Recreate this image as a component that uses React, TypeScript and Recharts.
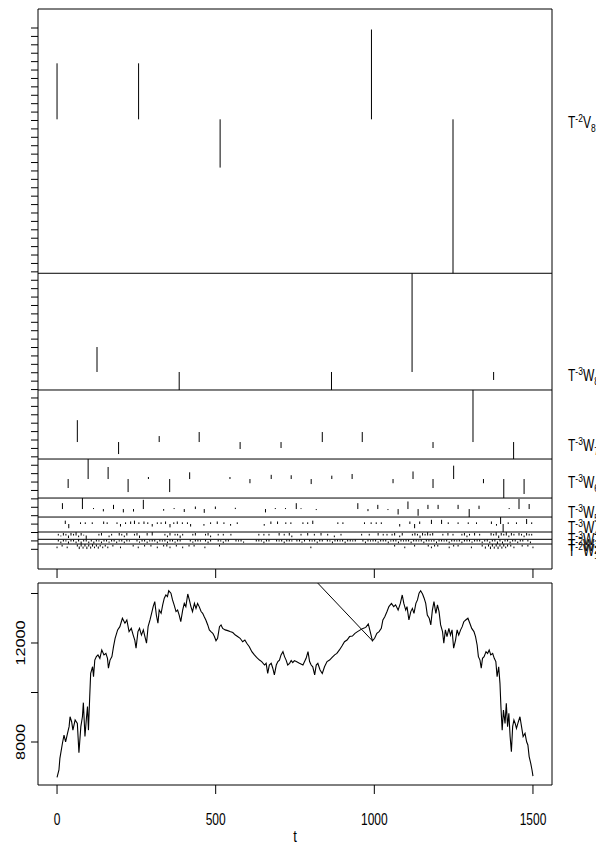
import React from 'react';
import { ComposedChart, LineChart, Line, XAxis, YAxis, ReferenceLine, ReferenceArea } from 'recharts';

// wavelet levels, top to bottom of the upper panel
const levelNames = ['V8', 'W8', 'W7', 'W6', 'W5', 'W4', 'W3', 'W2', 'W1'];
const levelPower = ['-2', '-3', '-3', '-3', '-3', '-3', '-3', '-2', '-2'];

// coefficients per level as [t, value] (value in panel units)
const coefV8 = [[0, 6.66], [257, 6.66], [514, -5.74], [991, 10.68], [1248, -18.31]];
const coefW8 = [[126, 2.97], [385, -2.14], [865, -2.14], [1119, 11.74], [1376, -0.95]];
const coefW7 = [
  [64, 2.6], [194, -1.43], [322, 0.71], [448, 1.19], [577, -0.83], [706, -0.71],
  [836, 1.19], [962, 1.19], [1185, -0.71], [1311, 6.19], [1439, -2.02],
];
const coefW6 = [
  [35, -1.07], [98, 2.38], [161, 1.43], [224, -1.55], [288, 0.24], [355, -1.55], [418, 0.8],
  [545, 0.24], [608, -0.5], [675, 0.5], [738, 0.45], [801, -0.6], [866, 0.4], [930, 0.6],
  [1059, -0.5], [1122, 0.9], [1185, -1.07], [1250, 1.59], [1344, -0.5], [1408, -2.26], [1472, -1.78],
];
const coefW5 = [
  [17, 0.7], [80, 1.31], [115, 0.12], [146, -0.28], [178, 0.5], [209, -0.4], [241, -0.3], [272, 1.1],
  [336, -0.2], [369, 0.12], [401, -0.35], [436, 0.3], [464, -0.45], [499, 0.3], [562, 0.15],
  [657, -0.4], [688, 0.12], [720, 0.12], [754, 0.7], [769, 0.1], [817, -0.12], [948, 0.7],
  [980, -0.25], [1011, 0.5], [1043, -0.12], [1075, -0.65], [1106, 0.9], [1138, -0.8], [1169, 0.5],
  [1201, 0.5], [1264, 0.5], [1299, -0.95], [1330, 0.4], [1425, 0.12], [1456, 1.2], [1488, 0.6],
];
const coefW4 = [
  [26, 0.4], [37, -0.5], [74, 0.2], [89, 0.2], [111, 0.2], [147, 0.3], [158, 0.2], [189, 0.2],
  [200, -0.3], [216, 0.2], [232, 0.3], [244, 0.4], [258, 0.2], [274, 0.3], [286, 0.2], [300, -0.3],
  [316, 0.2], [328, 0.2], [342, 0.3], [356, -0.4], [368, 0.2], [379, 0.3], [395, 0.2], [411, 0.2],
  [421, -0.3], [463, -0.2], [484, 0.2], [505, 0.3], [526, 0.2], [547, -0.2], [568, 0.2], [653, -0.2],
  [674, 0.3], [695, 0.3], [721, 0.2], [737, 0.2], [775, 0.2], [790, 0.2], [806, 0.4], [885, 0.2],
  [901, 0.2], [969, 0.2], [990, 0.2], [1006, 0.2], [1022, 0.2], [1080, -0.3], [1112, 0.3],
  [1127, -0.5], [1143, 0.3], [1180, 0.5], [1212, 0.5], [1233, 0.2], [1264, 0.2], [1296, 0.2],
  [1322, 0.2], [1369, 0.3], [1385, -0.2], [1398, 0.83], [1406, -0.95], [1422, 0.2], [1448, 0.2],
  [1480, 0.6], [1496, 0.2],
];
const coefW3 = [
  [4, 0.2], [12, -0.1], [20, 0.3], [28, 0.2], [36, -0.3], [44, 0.3], [52, 0.2], [60, 0.4], [68, -0.2],
  [76, 0.3], [84, 0.1], [92, -0.4], [132, 0.2], [140, 0.3], [164, -0.2], [172, 0.2], [196, 0.3],
  [204, 0.2], [212, -0.2], [220, 0.3], [244, 0.2], [252, 0.3], [260, -0.3], [284, 0.3], [300, 0.4],
  [340, 0.2], [348, -0.2], [356, 0.3], [372, 0.2], [380, 0.2], [388, -0.3], [396, 0.2], [428, 0.2],
  [436, 0.3], [468, 0.2], [476, 0.3], [484, -0.2], [508, 0.2], [524, 0.2], [548, 0.2], [636, 0.2],
  [652, 0.2], [668, 0.2], [700, 0.3], [716, 0.2], [732, 0.3], [740, -0.2], [769, 0.2], [790, 0.3],
  [811, 0.2], [832, 0.3], [853, 0.2], [874, -0.2], [895, 0.2], [960, 0.2], [984, 0.2], [1012, 0.3],
  [1028, 0.2], [1040, 0.2], [1056, 0.2], [1064, 0.3], [1080, -0.2], [1088, 0.3], [1120, 0.2],
  [1128, 0.3], [1136, 0.2], [1144, -0.3], [1152, 0.3], [1160, 0.2], [1168, 0.4], [1176, 0.2],
  [1184, 0.3], [1216, 0.2], [1232, 0.3], [1248, 0.2], [1276, 0.2], [1284, 0.3], [1292, -0.2],
  [1300, 0.2], [1316, 0.3], [1332, 0.2], [1368, 0.3], [1376, 0.2], [1384, 0.4], [1392, -0.3],
  [1400, 0.3], [1408, 0.2], [1416, 0.4], [1424, -0.2], [1432, 0.3], [1440, 0.2], [1456, 0.3],
  [1464, 0.2], [1472, -0.2], [1480, 0.3], [1488, 0.2], [1496, 0.2],
];
const coefW2 = [
  [4, 0.2], [12, -0.2], [20, 0.2], [28, 0.15], [36, -0.25], [44, 0.2], [52, 0.2], [60, -0.2], [68, 0.25],
  [76, -0.3], [84, 0.2], [92, 0.25], [100, -0.2], [108, 0.2], [116, -0.25], [124, 0.2], [132, 0.15],
  [140, -0.2], [148, 0.2], [156, 0.2], [164, -0.15], [172, 0.2], [180, 0.2], [188, -0.2], [196, 0.15],
  [204, 0.2], [212, -0.2], [220, 0.2], [228, 0.15], [252, 0.2], [260, -0.15], [268, 0.2], [276, 0.2],
  [284, -0.2], [292, 0.15], [300, 0.2], [308, 0.2], [316, -0.2], [324, 0.2], [332, 0.15], [340, 0.2],
  [348, -0.2], [356, 0.2], [364, 0.2], [372, -0.15], [380, 0.2], [388, 0.2], [420, 0.2], [428, -0.15],
  [436, 0.2], [444, 0.2], [452, 0.15], [468, 0.2], [476, -0.2], [484, 0.2], [508, 0.2], [516, 0.15],
  [524, -0.2], [532, 0.2], [540, 0.2], [564, 0.2], [572, 0.15], [580, 0.2], [588, -0.15], [628, 0.2],
  [636, 0.2], [644, 0.15], [652, -0.2], [660, 0.2], [668, 0.2], [692, 0.2], [700, 0.15], [708, 0.2],
  [716, -0.2], [724, 0.2], [732, 0.2], [740, 0.15], [756, 0.2], [764, 0.2], [772, -0.15], [780, 0.2],
  [796, 0.2], [804, 0.15], [812, 0.2], [820, -0.2], [828, 0.2], [836, 0.2], [852, 0.2], [860, 0.15],
  [868, -0.2], [876, 0.2], [884, 0.2], [892, 0.15], [900, 0.2], [908, -0.2], [916, 0.2], [924, 0.2],
  [932, 0.15], [940, 0.2], [964, 0.2], [972, -0.2], [980, 0.2], [988, 0.15], [996, 0.2], [1004, 0.2],
  [1012, -0.15], [1020, 0.2], [1028, 0.2], [1036, 0.2], [1044, -0.2], [1052, 0.15], [1060, 0.2],
  [1068, 0.2], [1076, -0.2], [1084, 0.2], [1092, 0.15], [1100, 0.2], [1108, 0.2], [1116, -0.2],
  [1124, 0.2], [1132, 0.2], [1140, 0.15], [1148, 0.2], [1156, -0.2], [1164, 0.2], [1172, 0.2],
  [1180, 0.15], [1188, 0.2], [1196, -0.2], [1204, 0.2], [1212, 0.2], [1220, 0.15], [1228, 0.2],
  [1236, -0.2], [1244, 0.2], [1252, 0.2], [1260, 0.15], [1268, 0.2], [1276, -0.2], [1284, 0.2],
  [1292, 0.2], [1300, 0.2], [1308, -0.15], [1316, 0.2], [1324, 0.2], [1332, 0.2], [1340, -0.2],
  [1348, 0.2], [1356, 0.25], [1364, -0.2], [1372, 0.2], [1380, 0.25], [1388, -0.3], [1396, 0.25],
  [1404, -0.25], [1412, 0.2], [1420, 0.25], [1428, -0.2], [1436, 0.2], [1444, 0.2], [1452, -0.2],
  [1460, 0.2], [1468, 0.2], [1484, 0.2], [1492, -0.2],
];
const coefW1 = [
  [0, -0.2], [16, 0.2], [32, -0.2], [64, 0.25], [70, -0.3], [76, 0.3], [82, -0.25], [88, 0.3], [94, -0.3],
  [100, 0.25], [106, -0.25], [112, 0.3], [118, -0.2], [124, 0.25], [130, -0.25], [136, 0.2], [144, -0.2],
  [152, 0.2], [160, -0.2], [176, 0.2], [200, -0.2], [240, 0.2], [256, -0.2], [276, 0.2], [296, 0.2],
  [316, -0.2], [336, 0.2], [346, 0.25], [356, -0.2], [376, 0.2], [396, -0.2], [416, 0.2], [432, 0.2],
  [466, -0.2], [512, 0.2], [800, -0.2], [1064, 0.2], [1096, -0.2], [1127, 0.2], [1170, 0.2],
  [1180, -0.2], [1190, 0.2], [1200, 0.2], [1236, -0.2], [1250, 0.2], [1264, 0.2], [1306, -0.2],
  [1340, 0.2], [1350, -0.25], [1360, 0.25], [1366, -0.3], [1372, 0.3], [1378, -0.25], [1384, 0.3],
  [1390, -0.3], [1396, 0.25], [1402, -0.25], [1408, 0.3], [1414, -0.2], [1420, 0.25], [1430, 0.2],
  [1440, -0.2], [1466, 0.2], [1484, 0.2], [1500, -0.2],
];
const levelCoefs = [coefV8, coefW8, coefW7, coefW6, coefW5, coefW4, coefW3, coefW2, coefW1];

// original series, [t, value]
const seriesLeft = [
  [0, 6570], [6, 6870], [9, 7340], [17, 7950], [22, 8280], [27, 8010], [33, 8350], [38, 8620], [41, 9020],
  [46, 8820], [50, 8480], [57, 8890], [64, 8750], [69, 7570], [75, 8620], [80, 9020], [83, 9590], [88, 8220],
  [93, 9020], [96, 9430], [99, 8480], [103, 9830], [106, 10770], [112, 11040], [115, 10640], [119, 11310],
  [124, 11450], [129, 11520], [135, 11380], [141, 11720], [148, 11520], [154, 11580], [159, 11380],
  [162, 10980], [167, 11310], [173, 11450], [178, 11850], [183, 12190], [191, 12530], [198, 12660],
  [206, 13000], [214, 12800], [220, 12930], [227, 12460], [234, 12590], [240, 12320], [245, 12120],
  [249, 11790], [255, 12460], [260, 12590], [266, 12320], [272, 12530], [277, 12260], [282, 11990],
  [287, 12660], [293, 12930], [298, 13200], [303, 13470], [308, 13670], [313, 13130], [318, 12800],
  [322, 13330], [328, 13200], [333, 13540], [338, 13810], [343, 13940], [348, 13870], [352, 14110],
  [359, 14010], [364, 13740], [369, 13540], [375, 13270], [380, 13330], [385, 13130], [390, 12860],
  [396, 13330], [401, 13600], [406, 13470], [412, 13980], [417, 13740], [422, 13470], [427, 13270],
  [433, 13600], [438, 13400], [443, 13600], [448, 13470], [454, 13270], [459, 13200], [464, 13060],
  [469, 12930], [475, 12730], [480, 12530], [485, 12460], [491, 12390], [496, 12260], [501, 12090],
  [506, 12190], [512, 12660], [517, 12730], [522, 12590], [530, 12530], [538, 12500], [545, 12460],
  [554, 12420], [562, 12320], [569, 12260], [577, 12190], [585, 12050], [592, 12120], [598, 11990],
  [606, 11850], [614, 11650], [622, 11520], [629, 11420], [638, 11310], [645, 11250], [654, 11110],
  [659, 11180], [664, 10770], [669, 11110], [675, 11180], [680, 10980], [685, 10710], [691, 11110],
  [696, 11250], [701, 11310], [706, 11520], [712, 11650], [717, 11450], [722, 11310], [727, 11110],
  [733, 11180], [738, 11290], [743, 11210], [748, 11290],
];
const seriesRight = [
  [754, 11250], [764, 11180], [775, 11110], [785, 11380], [791, 11650], [796, 11250], [801, 11110],
  [806, 11040], [812, 10710], [817, 11110], [822, 11180], [829, 10910], [836, 10770], [843, 11040],
  [851, 11250], [859, 11310], [867, 11420], [875, 11520], [882, 11580], [890, 11720], [898, 11880],
  [906, 12050], [914, 12120], [922, 12260], [931, 12280], [939, 12390], [947, 12460], [956, 12530],
  [964, 12590], [973, 12630], [981, 12770], [987, 12460], [994, 12090], [1001, 12190], [1008, 12390],
  [1015, 12460], [1022, 12590], [1027, 12930], [1033, 13060], [1040, 13270], [1046, 13470], [1054, 13600],
  [1061, 13470], [1067, 13540], [1075, 13330], [1082, 13600], [1088, 13940], [1093, 13600], [1099, 13330],
  [1103, 13470], [1109, 12930], [1115, 13270], [1120, 13400], [1125, 13200], [1131, 13600], [1136, 13740],
  [1141, 14010], [1146, 14110], [1152, 13980], [1157, 13810], [1162, 13600], [1167, 13130], [1173, 13000],
  [1178, 12730], [1183, 13330], [1188, 13670], [1194, 13200], [1199, 13540], [1204, 13270], [1209, 12730],
  [1215, 12460], [1219, 11990], [1224, 12530], [1229, 12260], [1235, 12590], [1240, 12320], [1245, 12530],
  [1250, 11790], [1256, 12120], [1261, 12530], [1266, 12320], [1272, 12530], [1277, 12660], [1282, 12860],
  [1288, 12930], [1295, 13000], [1301, 12800], [1307, 12590], [1314, 12460], [1319, 12260], [1324, 11920],
  [1328, 11450], [1333, 11310], [1337, 10980], [1341, 11380], [1346, 11450], [1352, 11650], [1357, 11580],
  [1362, 11720], [1367, 11520], [1373, 11580], [1378, 11380], [1383, 11250], [1387, 10640], [1392, 11040],
  [1396, 10370], [1399, 9430], [1403, 8480], [1407, 9290], [1412, 8750], [1416, 9560], [1420, 8620],
  [1424, 9160], [1428, 8220], [1432, 7610], [1436, 8620], [1440, 8890], [1444, 8750], [1448, 8550],
  [1454, 8820], [1459, 9020], [1464, 8620], [1469, 8220], [1475, 8350], [1480, 8010], [1484, 7880],
  [1488, 7410], [1493, 7140], [1497, 6870], [1500, 6620],
];
// the stray segment running in from above the panel
const seriesStray = [[705, 16000], [994, 12090]];

const timeTicks = [0, 500, 1000, 1500];
const priceTicks = [8000, 10000, 12000, 14000];
const priceLabels = [8000, 12000];
const levelTicks = Array.from({ length: 63 }, (_, i) => i);

// layout of the upper panel (panel units): baseline of each level, band borders
const levelBase = [51.14, 21.09, 12.76, 8.36, 4.79, 3.01, 1.64, 0.93, 0.33];
const bandEdges = [32.83, 18.95, 10.74, 6.1, 3.84, 2.06, 1.19, 0.63];

const FONT = "'Liberation Sans', Arial, Helvetica, sans-serif";
const X_DOMAIN = [-60, 1560];
const LEVEL_DOMAIN = [-2.34, 64.26];
const PRICE_DOMAIN = [6263, 14424];

// each coefficient becomes a vertical stroke from its baseline; nulls break the path
const segmentRows = (coefs: number[][], base: number) =>
  coefs.flatMap(([t, v]) => [
    { t, u: base },
    { t, u: base + v },
    { t, u: null },
  ]);

const toRows = (pairs: number[][]) => pairs.map(([t, v]) => ({ t, v }));
const seriesRows = toRows([...seriesLeft, ...seriesRight]);
const strayRows = toRows(seriesStray);

const Blank = () => <g />;

const LevelLabel = ({ viewBox, name, power }: any) => {
  if (!viewBox) return null;
  const x = viewBox.x + viewBox.width + 16;
  const y = viewBox.y + 9;
  return (
    <text transform={`translate(${x},${y}) scale(1,1.3)`} fontFamily={FONT} fontSize={12} fill="#000">
      T
      <tspan fontSize={8.5} dy={-4.5}>{power}</tspan>
      <tspan fontSize={12} dy={4.5}>{name[0]}</tspan>
      <tspan fontSize={8.5} dy={3}>{name.slice(1)}</tspan>
    </text>
  );
};

const TimeTick = ({ x, y, payload }: any) => (
  <text
    transform={`translate(${x},${y + 29}) scale(1,1.35)`}
    textAnchor="middle"
    fontFamily={FONT}
    fontSize={12}
    fill="#000"
  >
    {payload.value}
  </text>
);

const PriceTick = ({ x, y, payload }: any) =>
  priceLabels.includes(payload.value) ? (
    <text
      transform={`translate(${x - 8},${y}) rotate(-90) scale(1.35,1)`}
      textAnchor="middle"
      dy="0.35em"
      fontFamily={FONT}
      fontSize={12}
      fill="#000"
    >
      {payload.value}
    </text>
  ) : (
    <g />
  );

const TimeLabel = ({ viewBox }: any) => {
  if (!viewBox) return null;
  const x = viewBox.x + viewBox.width / 2;
  const y = viewBox.y + 57;
  return (
    <text transform={`translate(${x},${y}) scale(1,1.3)`} textAnchor="middle" fontFamily={FONT} fontSize={13} fill="#000">
      t
    </text>
  );
};

const App: React.FC = () => {
  return (
    <div style={{ position: 'absolute', left: 0, top: 0, width: 596, height: 846, background: '#fff', fontFamily: FONT }}>
      {/* coefficient panel */}
      <div style={{ position: 'absolute', left: 0, top: 0 }}>
        <ComposedChart width={596} height={580} margin={{ top: 9, right: 44, bottom: 0, left: 0 }}>
          <XAxis
            dataKey="t"
            type="number"
            domain={X_DOMAIN}
            ticks={timeTicks}
            allowDataOverflow
            height={11}
            tickSize={9}
            axisLine={false}
            tickLine={{ stroke: '#000' }}
            tick={Blank}
            interval={0}
          />
          <YAxis
            type="number"
            domain={LEVEL_DOMAIN}
            ticks={levelTicks}
            allowDataOverflow
            width={38}
            tickSize={7}
            axisLine={false}
            tickLine={{ stroke: '#000' }}
            tick={Blank}
            interval={0}
          />
          <ReferenceArea
            x1={X_DOMAIN[0]}
            x2={X_DOMAIN[1]}
            y1={LEVEL_DOMAIN[0]}
            y2={LEVEL_DOMAIN[1]}
            fill="none"
            stroke="#000"
            strokeWidth={1}
          />
          {bandEdges.map((edge) => (
            <ReferenceLine key={`edge-${edge}`} y={edge} stroke="#000" strokeWidth={1} />
          ))}
          {levelNames.map((name, i) => (
            <ReferenceLine
              key={`label-${name}`}
              y={levelBase[i]}
              stroke="none"
              label={(p: any) => <LevelLabel viewBox={p.viewBox} name={name} power={levelPower[i]} />}
            />
          ))}
          {levelNames.map((name, i) => (
            <Line
              key={name}
              data={segmentRows(levelCoefs[i], levelBase[i])}
              dataKey="u"
              stroke="#000"
              strokeWidth={1}
              dot={false}
              activeDot={false}
              isAnimationActive={false}
            />
          ))}
        </ComposedChart>
      </div>

      {/* original series */}
      <div style={{ position: 'absolute', left: 0, top: 580 }}>
        <LineChart width={596} height={266} margin={{ top: 3, right: 44, bottom: 0, left: 0 }}>
          <XAxis
            dataKey="t"
            type="number"
            domain={X_DOMAIN}
            ticks={timeTicks}
            allowDataOverflow
            height={61}
            tickSize={9}
            axisLine={false}
            tickLine={{ stroke: '#000' }}
            tick={TimeTick}
            interval={0}
            label={(p: any) => <TimeLabel viewBox={p.viewBox} />}
          />
          <YAxis
            type="number"
            domain={PRICE_DOMAIN}
            ticks={priceTicks}
            allowDataOverflow
            width={38}
            tickSize={7}
            axisLine={false}
            tickLine={{ stroke: '#000' }}
            tick={PriceTick}
            interval={0}
          />
          <ReferenceArea
            x1={X_DOMAIN[0]}
            x2={X_DOMAIN[1]}
            y1={PRICE_DOMAIN[0]}
            y2={PRICE_DOMAIN[1]}
            fill="none"
            stroke="#000"
            strokeWidth={1}
          />
          <Line
            data={seriesRows}
            dataKey="v"
            stroke="#000"
            strokeWidth={1.1}
            dot={false}
            activeDot={false}
            isAnimationActive={false}
          />
          <Line
            data={strayRows}
            dataKey="v"
            stroke="#000"
            strokeWidth={1}
            dot={false}
            activeDot={false}
            isAnimationActive={false}
          />
        </LineChart>
      </div>
    </div>
  );
};

export default App;
